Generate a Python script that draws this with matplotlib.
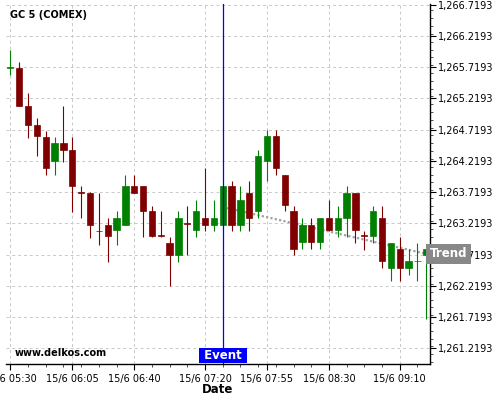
import matplotlib
matplotlib.use("Agg")
import matplotlib.pyplot as plt
import matplotlib.dates as mdates
import matplotlib.transforms as mtransforms
from matplotlib.ticker import FixedLocator, FixedFormatter, FuncFormatter, MultipleLocator
from datetime import datetime

title = "GC 5 (COMEX)"
watermark = "www.delkos.com"
day = "2011-06-15"

times = ["05:30", "05:35", "05:40", "05:45", "05:50", "05:55", "06:00", "06:05",
         "06:10", "06:15", "06:20", "06:25", "06:30", "06:35", "06:40", "06:45",
         "06:50", "06:55", "07:00", "07:05", "07:10", "07:15", "07:20", "07:25",
         "07:30", "07:35", "07:40", "07:45", "07:50", "07:55", "08:00", "08:05",
         "08:10", "08:15", "08:20", "08:25", "08:30", "08:35", "08:40", "08:45",
         "08:50", "08:55", "09:00", "09:05", "09:10", "09:15", "09:20", "09:25"]

opens = [1265.71, 1265.71, 1265.10, 1264.80, 1264.60, 1264.21, 1264.51, 1264.40,
         1263.72, 1263.71, 1263.10, 1263.20, 1263.11, 1263.20, 1263.81, 1263.81,
         1263.41, 1263.03, 1262.91, 1262.71, 1263.22, 1263.11, 1263.31, 1263.20,
         1263.20, 1263.81, 1263.20, 1263.71, 1263.41, 1264.21, 1264.61, 1263.99,
         1263.41, 1262.92, 1263.20, 1262.92, 1263.31, 1263.11, 1263.31, 1263.71,
         1263.03, 1263.01, 1263.31, 1262.51, 1262.81, 1262.51, 1262.61, 1262.71]
highs = [1265.99, 1265.80, 1265.30, 1264.90, 1264.70, 1264.60, 1265.09, 1264.60,
         1263.81, 1263.72, 1263.71, 1263.31, 1263.41, 1264.00, 1264.00, 1263.81,
         1263.50, 1263.41, 1263.00, 1263.41, 1263.50, 1263.60, 1264.10, 1263.60,
         1263.81, 1263.90, 1263.81, 1263.90, 1264.39, 1264.71, 1264.71, 1263.99,
         1263.50, 1263.30, 1263.30, 1263.31, 1263.60, 1263.50, 1263.81, 1263.71,
         1263.10, 1263.50, 1263.50, 1262.91, 1263.00, 1262.81, 1262.91, 1262.81]
lows = [1265.59, 1265.09, 1264.59, 1264.30, 1263.99, 1263.99, 1264.20, 1263.40,
        1263.31, 1262.99, 1262.88, 1262.60, 1262.88, 1263.19, 1263.71, 1263.00,
        1263.00, 1263.00, 1262.21, 1262.60, 1262.71, 1263.00, 1263.10, 1263.10,
        1263.20, 1263.10, 1263.10, 1263.10, 1263.30, 1263.90, 1263.99, 1263.41,
        1262.71, 1262.81, 1262.81, 1262.81, 1263.10, 1263.00, 1263.00, 1262.91,
        1262.80, 1262.91, 1262.50, 1262.30, 1262.30, 1262.39, 1262.30, 1261.69]
closes = [1265.72, 1265.10, 1264.80, 1264.61, 1264.11, 1264.51, 1264.40, 1263.81,
          1263.71, 1263.20, 1263.09, 1263.01, 1263.31, 1263.81, 1263.71, 1263.41,
          1263.01, 1263.02, 1262.71, 1263.31, 1263.21, 1263.41, 1263.20, 1263.31,
          1263.81, 1263.20, 1263.60, 1263.31, 1264.30, 1264.61, 1264.11, 1263.51,
          1262.81, 1263.20, 1262.92, 1263.31, 1263.11, 1263.31, 1263.71, 1263.11,
          1263.02, 1263.41, 1262.61, 1262.91, 1262.51, 1262.61, 1262.62, 1262.81]

tick_times = ["05:30", "06:05", "06:40", "07:20", "07:55", "08:30", "09:10"]
tick_labels = ["15/6 05:30", "15/6 06:05", "15/6 06:40", "15/6 07:20",
               "15/6 07:55", "15/6 08:30", "15/6 09:10"]
y_ticks = [1261.2193, 1261.7193, 1262.2193, 1262.7193, 1263.2193, 1263.7193,
           1264.2193, 1264.7193, 1265.2193, 1265.7193, 1266.2193, 1266.7193]

event_time = "07:30"
event_label = "Event"
trend_times = ["07:30", "09:25"]
trend_values = [1263.48, 1262.73]
trend_label = "Trend"


def to_num(t):
    return mdates.date2num(datetime.strptime(day + " " + t, "%Y-%m-%d %H:%M"))


x = [to_num(t) for t in times]
step = x[1] - x[0]
up_col = "#008000"
dn_col = "#800000"
cols = [up_col if c >= o else dn_col for o, c in zip(opens, closes)]

fig = plt.figure(figsize=(5, 4), dpi=100)
ax = fig.add_axes([0.012, 0.09, 0.848, 0.899])

# trend line (behind candles)
ax.plot([to_num(t) for t in trend_times], trend_values, color="#a0a0a0",
        linewidth=1.6, linestyle=(0, (1, 1)), zorder=1.5)

# candles
ax.vlines(x, lows, highs, colors=cols, linewidth=0.8, zorder=2)
bottoms = [min(o, c) for o, c in zip(opens, closes)]
heights = [abs(c - o) for o, c in zip(opens, closes)]
ax.bar(x, heights, bottom=bottoms, width=step * 0.71, color=cols,
       edgecolor=cols, linewidth=0.5, zorder=2.1)

# event line
xe = to_num(event_time)
ax.axvline(xe, color="#0000ff", linewidth=0.9, zorder=3)

ax.set_xlim(x[0] - 0.49 * step, x[-1] + 0.42 * step)
ax.set_ylim(1260.968, 1266.722)

# axes styling
for s in ["left", "top"]:
    ax.spines[s].set_visible(False)
ax.spines["right"].set_linewidth(1.0)
ax.spines["bottom"].set_linewidth(1.0)

ax.yaxis.tick_right()
ax.yaxis.set_major_locator(FixedLocator(y_ticks))
ax.yaxis.set_minor_locator(MultipleLocator(0.125))
ax.yaxis.set_major_formatter(FuncFormatter(lambda v, p: f"{v:,.4f}"))
ax.xaxis.set_major_locator(FixedLocator([to_num(t) for t in tick_times]))
ax.xaxis.set_major_formatter(FixedFormatter(tick_labels))
ax.xaxis.set_minor_locator(mdates.MinuteLocator(byminute=range(0, 60, 10)))

ax.tick_params(axis="both", which="major", length=4, width=0.8, labelsize=7,
               colors="black")
ax.tick_params(axis="both", which="minor", length=2.2, width=0.6, colors="#333333")
ax.tick_params(axis="y", which="major", pad=1.5)

ax.grid(True, which="major", color="#c8c8c8", linestyle=(0, (3, 3)),
        linewidth=0.7, zorder=0)
ax.set_axisbelow(True)

ax.set_xlabel("Date", fontsize=8.5, fontweight="bold", labelpad=-1)

# labels
fig.text(10 / 500, 1 - 15.5 / 400, title, fontsize=7, fontweight="bold",
         va="center", ha="left")
fig.text(15 / 500, 1 - 353.5 / 400, watermark, fontsize=7, fontweight="bold",
         va="center", ha="left")

blend = mtransforms.blended_transform_factory(ax.transData, ax.transAxes)
ax.text(xe, 0.024, " " + event_label + " ", transform=blend, ha="center",
        va="center", color="white", fontsize=8.5, fontweight="bold",
        bbox=dict(boxstyle="square,pad=0.1", fc="#0000ff", ec="none"),
        zorder=4, clip_on=False)

blend2 = mtransforms.blended_transform_factory(ax.transAxes, ax.transData)
ax.text(1.0, trend_values[-1], trend_label, transform=blend2, ha="left",
        va="center", color="white", fontsize=8.5, fontweight="bold",
        bbox=dict(boxstyle="square,pad=0.3", fc="#888888", ec="none"),
        zorder=5, clip_on=False)

fig.savefig("out.png", dpi=100)
